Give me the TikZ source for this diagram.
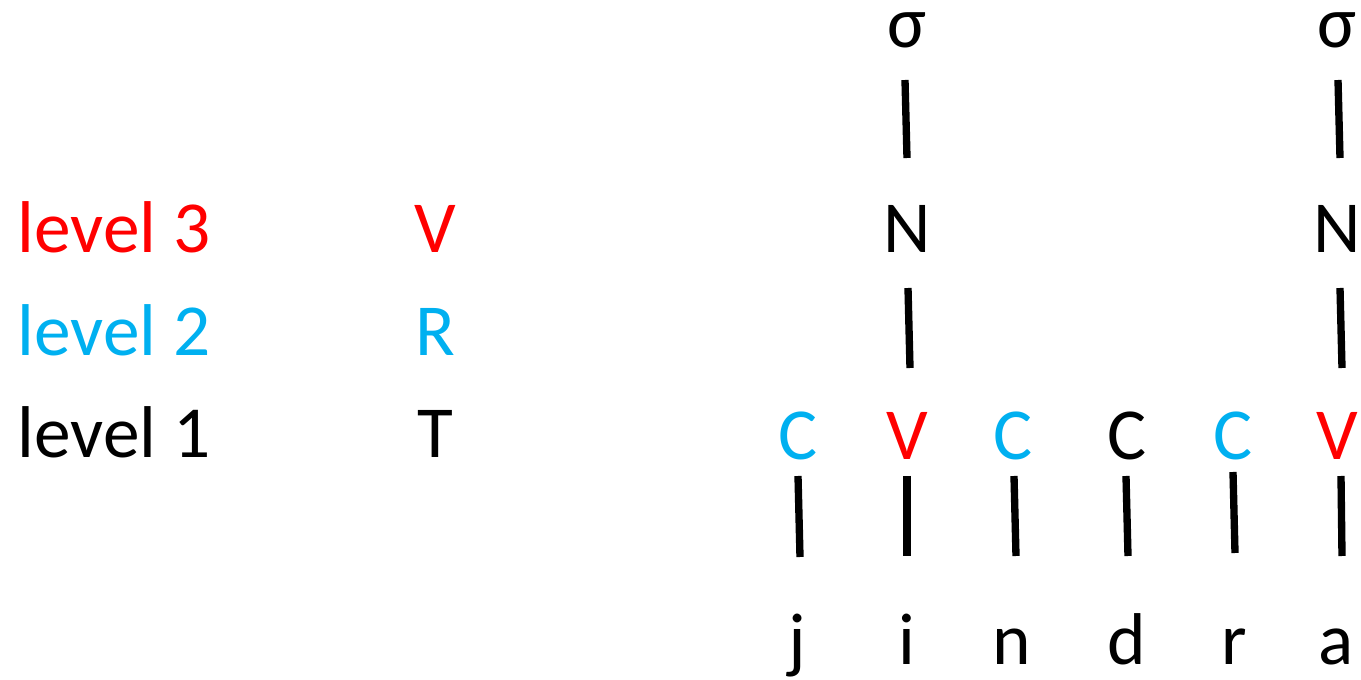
\documentclass[tikz,border=0pt]{standalone}
\usepackage{fontspec}
\setmainfont{Carlito}
\usetikzlibrary{calc}
\definecolor{myred}{RGB}{255,0,0}
\definecolor{myblue}{RGB}{0,176,240}
\begin{document}
\begin{tikzpicture}[x=0.75pt,y=-0.75pt,
  lbl/.style={anchor=base,inner sep=2pt,font=\fontsize{55}{60}\selectfont},
  lvl/.style={lbl,anchor=base west},
  link/.style={line width=5.5pt}]
\useasboundingbox (0,0) rectangle (1361,680);
% left legend
\node[lvl,text=myred]  (lv3) at (15,253) {level 3};
\node[lvl,text=myblue] (lv2) at (15,356) {level 2};
\node[lvl]             (lv1) at (15,458) {level 1};
\node[lbl,text=myred]  (tv) at (435,253) {V};
\node[lbl,text=myblue] (tr) at (435,356) {R};
\node[lbl]             (tt) at (435,458) {T};
% tree
\node[lbl] (s1) at (907,48) {σ};
\node[lbl] (s2) at (1337,48) {σ};
\node[lbl] (n1) at (907,253) {N};
\node[lbl] (n2) at (1337,253) {N};
\node[lbl,text=myblue] (c1) at (798,460) {C};
\node[lbl,text=myred]  (v1) at (907,460) {V};
\node[lbl,text=myblue] (c2) at (1013,460) {C};
\node[lbl]             (c3) at (1127,460) {C};
\node[lbl,text=myblue] (c4) at (1233,460) {C};
\node[lbl,text=myred]  (v2) at (1337,460) {V};
\node[lbl] (bj) at (797,665) {j};
\node[lbl] (bi) at (907,665) {i};
\node[lbl] (bn) at (1012,665) {n};
\node[lbl] (bd) at (1127,665) {d};
\node[lbl] (br) at (1234,665) {r};
\node[lbl] (ba) at (1336,665) {a};
% connectors
\draw[link] ($(s1.base)+(-2,32)$) -- ($(n1.base)+(0,-95)$);
\draw[link] ($(s2.base)+(1,32)$) -- ($(n2.base)+(3,-95)$);
\draw[link] ($(n1.base)+(1,35)$) -- ($(v1.base)+(3,-92)$);
\draw[link] ($(n2.base)+(3,35)$) -- ($(v2.base)+(5,-92)$);
\draw[link] ($(c1.base)+(0,16)$) -- ($(bj.base)+(3,-108)$);
\draw[link] ($(v1.base)+(0,16)$) -- ($(bi.base)+(0,-109)$);
\draw[link] ($(c2.base)+(1,16)$) -- ($(bn.base)+(4,-109)$);
\draw[link] ($(c3.base)+(-1,16)$) -- ($(bd.base)+(1,-109)$);
\draw[link] ($(c4.base)+(0,12)$) -- ($(br.base)+(1,-112)$);
\draw[link] ($(v2.base)+(4,16)$) -- ($(ba.base)+(6,-109)$);
\end{tikzpicture}
\end{document}
